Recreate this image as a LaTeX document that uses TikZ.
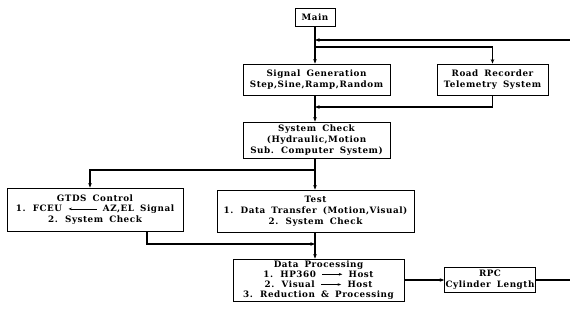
\documentclass[tikz,border=0pt]{standalone}
\usepackage{fontspec}
\setmainfont{DejaVu Serif}
\newfontfamily\boxfont[LetterSpace=6,WordSpace=1.7]{DejaVu Serif}
\usepackage{tikz}
\usetikzlibrary{arrows.meta,positioning}

% small inline arrows used inside the box texts
\newcommand{\textlarrow}[1]{\tikz[baseline=-0.65ex]\draw[line width=0.6pt,{Stealth[length=3.5pt,width=2.6pt]}-] (0,0) -- (#1,0);}
\newcommand{\textrarrow}[1]{\tikz[baseline=-0.65ex]\draw[line width=0.6pt,-{Stealth[length=3.5pt,width=2.6pt]}] (0,0) -- (#1,0);}

\begin{document}
\begin{tikzpicture}[
    x=1pt, y=-1pt,
    >={Stealth[length=4.5pt,width=3.5pt]},
    flowbox/.style={draw, line width=0.8pt, align=center, inner sep=1pt,
        font=\boxfont\bfseries\fontsize{8.8}{10.8}\selectfont},
    flow/.style={line width=1.1pt}
]
    \useasboundingbox (0,0) rectangle (570,320);

    % Boxes
    \node[flowbox, minimum width=40pt, minimum height=18pt] (main) at (315,17) {Main};
    \node[flowbox, minimum width=147pt, minimum height=31pt] (siggen) at (316.5,79.5)
        {Signal Generation\\Step,Sine,Ramp,Random};
    \node[flowbox, minimum width=111pt, minimum height=31pt] (road) at (492.5,79.5)
        {Road Recorder\\Telemetry System};
    \node[flowbox, minimum width=147pt, minimum height=36pt] (syscheck) at (316.5,140)
        {System Check\\(Hydraulic,Motion\\Sub. Computer System)};
    \node[flowbox, minimum width=176pt, minimum height=43pt] (gtds) at (95,209.5)
        {GTDS Control\\1. FCEU \textlarrow{28pt} AZ,EL Signal\\2. System Check};
    \node[flowbox, minimum width=197pt, minimum height=42pt] (test) at (315.5,211)
        {Test\\1. Data Transfer (Motion,Visual)\\2. System Check};
    \node[flowbox, minimum width=171pt, minimum height=42pt,
        font=\boxfont\bfseries\fontsize{8.8}{10.2}\selectfont] (dp) at (318.5,280)
        {Data Processing\\1. HP360 \textrarrow{20pt} Host\\2. Visual \textrarrow{20pt} Host\\3. Reduction \& Processing};
    \node[flowbox, minimum width=90pt, minimum height=25pt] (rpc) at (490,280)
        {RPC\\Cylinder Length};

    % Loose ends of the loop at the right border
    \coordinate (loopin) at (570,40);
    \coordinate (loopout) at (570,280);

    % Main trunk
    \draw[flow,->] (main.south -| 315,0) -- (siggen.north -| 315,0);
    \draw[flow,->] (loopin) -- (loopin -| 315,0);
    \draw[flow,->] (315,47) -| (road.north);
    \draw[flow,->] (road.south) |- (315,107);
    \draw[flow,->] (siggen.south -| 315,0) -- (syscheck.north -| 315,0);

    % Branches below the system check
    \draw[flow,->] (syscheck.south -| 315,0) -- (test.north -| 315,0);
    \draw[flow,->] (315,170) -| ([xshift=-5pt]gtds.north);
    \draw[flow,->] ([xshift=52pt]gtds.south) |- (315,244);
    \draw[flow,->] (test.south -| 315,0) -- (dp.north -| 315,0);

    % Output side
    \draw[flow,->] (dp.east) -- (rpc.west);
    \draw[flow] (rpc.east) -- (loopout);
\end{tikzpicture}
\end{document}
